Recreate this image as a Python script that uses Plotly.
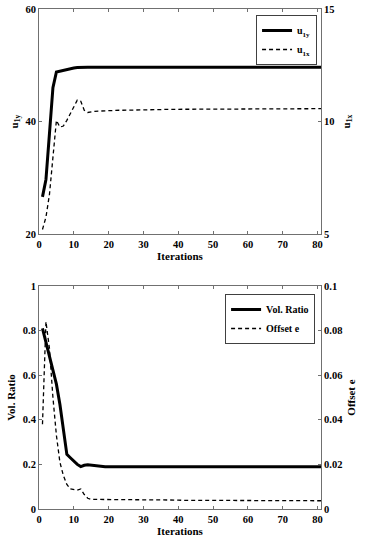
import plotly.graph_objects as go

# ---- data ----
iters = list(range(1, 82))

u1y_head = [26.6, 29.7, 37.8, 46.0, 48.8, 48.95, 49.1, 49.3, 49.4, 49.5, 49.6, 49.65]
u1y = u1y_head + [49.65] * (81 - len(u1y_head))

u1x_head = [5.2, 5.75, 6.75, 8.4, 10.05, 9.75, 9.8, 10.05, 10.35, 10.6, 10.95, 10.9,
            10.5, 10.4, 10.44, 10.45, 10.46, 10.47, 10.48, 10.5]
u1x_tail_pts = [10.5, 10.52, 10.53, 10.54, 10.55, 10.55, 10.56, 10.56, 10.57, 10.57, 10.57, 10.57]
u1x = u1x_head + [u1x_tail_pts[min(i // 5, len(u1x_tail_pts) - 1)] for i in range(81 - len(u1x_head))]

vol_head = [0.81, 0.75, 0.69, 0.63, 0.56, 0.47, 0.36, 0.245, 0.23, 0.215, 0.20, 0.19,
            0.196, 0.198, 0.196, 0.193, 0.192, 0.191, 0.19, 0.19, 0.19, 0.189, 0.189, 0.189, 0.189]
vol_ratio = vol_head + [0.189] * (81 - len(vol_head))

off_head = [0.038, 0.084, 0.072, 0.050, 0.033, 0.021, 0.015, 0.011, 0.009, 0.0088, 0.0085,
            0.009, 0.0065, 0.0048, 0.0043, 0.0043, 0.0043, 0.0043, 0.0043, 0.0043]
off_tail_pts = [0.0042, 0.0041, 0.0040, 0.0040, 0.0039, 0.0039, 0.0038, 0.0038, 0.0038,
                0.0037, 0.0037, 0.0037, 0.0037]
offset_e = off_head + [off_tail_pts[min(i // 5, len(off_tail_pts) - 1)] for i in range(81 - len(off_head))]

x_ticks = [0, 10, 20, 30, 40, 50, 60, 70, 80]

FONT = "Liberation Serif"
AX = "#707070"

fig = go.Figure()
fig.add_trace(go.Scatter(x=iters, y=u1y, mode="lines", name="u<sub>1y</sub>",
                         line=dict(color="black", width=3), xaxis="x", yaxis="y", legend="legend"))
fig.add_trace(go.Scatter(x=iters, y=u1x, mode="lines", name="u<sub>1x</sub>",
                         line=dict(color="black", width=1.3, dash="4px,3px"), xaxis="x", yaxis="y2", legend="legend"))
fig.add_trace(go.Scatter(x=iters, y=vol_ratio, mode="lines", name="Vol. Ratio",
                         line=dict(color="black", width=3), xaxis="x2", yaxis="y3", legend="legend2"))
fig.add_trace(go.Scatter(x=iters, y=offset_e, mode="lines", name="Offset e",
                         line=dict(color="black", width=1.3, dash="4px,3px"), xaxis="x2", yaxis="y4", legend="legend2"))

tickfont = dict(family=FONT, size=10.5, color="black", weight="bold")
titlefont = dict(family=FONT, size=11, color="black", weight="bold")

def xax(anchor):
    return dict(anchor=anchor, domain=[0, 1], range=[0, 81], tickvals=x_ticks,
                ticks="inside", ticklen=3, tickcolor=AX, showline=True, linecolor=AX, linewidth=1,
                mirror="ticks", showgrid=False, zeroline=False, tickfont=tickfont, automargin=False,
                title=dict(text="Iterations", font=titlefont, standoff=2))

def yax(dom, rng, tv, title, side="left", overlay=None, anchor="x", standoff=4):
    d = dict(range=rng, tickvals=tv, ticks="inside", ticklen=3, tickcolor=AX,
             showline=True, linecolor=AX, linewidth=1, showgrid=False, zeroline=False,
             tickfont=tickfont, side=side, anchor=anchor, automargin=False,
             title=dict(text=title, font=titlefont, standoff=standoff))
    if overlay:
        d["overlaying"] = overlay
    else:
        d["domain"] = dom
    return d

fig.update_layout(
    template="none",
    width=367, height=541,
    margin=dict(l=39, r=46, t=9, b=32),
    paper_bgcolor="white", plot_bgcolor="white",
    showlegend=True,
    xaxis=xax("y"),
    xaxis2=xax("y3"),
    yaxis=yax([0.55, 1.0], [20, 60], [20, 40, 60], "u<sub>1y</sub>"),
    yaxis2=yax(None, [5, 15], [5, 10, 15], "u<sub>1x</sub>", side="right", overlay="y", anchor="x", standoff=8),
    yaxis3=yax([0.0, 0.446], [0, 1], [0, 0.2, 0.4, 0.6, 0.8, 1], "Vol. Ratio", anchor="x2"),
    yaxis4=yax(None, [0, 0.1], [0, 0.02, 0.04, 0.06, 0.08, 0.1], "Offset e", side="right", overlay="y3", anchor="x2", standoff=5),
    legend=dict(x=0.986, y=0.988, xanchor="right", yanchor="top", bgcolor="white",
                bordercolor="#404040", borderwidth=1, font=dict(family=FONT, size=10, color="black", weight="bold"),
                itemwidth=30, tracegroupgap=0),
    legend2=dict(x=0.979, y=0.43, xanchor="right", yanchor="top", bgcolor="white",
                 bordercolor="#404040", borderwidth=1, font=dict(family=FONT, size=10, color="black", weight="bold"),
                 itemwidth=30, tracegroupgap=0),
)

fig.write_html("out.html", config={"displayModeBar": False},
               post_script="document.body.style.margin='0';document.body.style.overflow='hidden';")
